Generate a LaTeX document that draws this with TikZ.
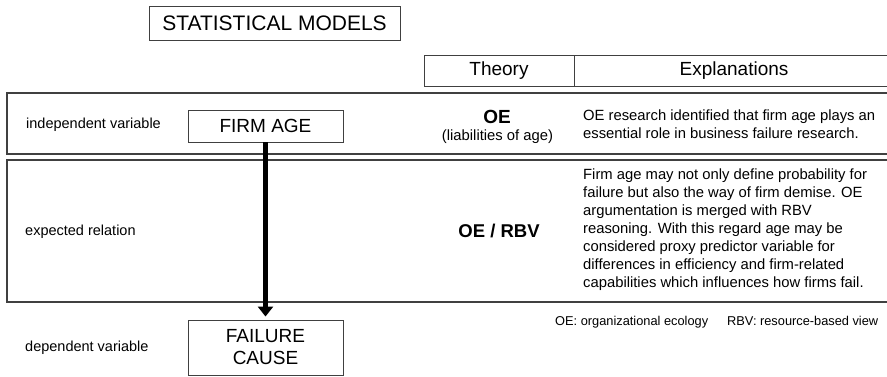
\documentclass[tikz,border=0pt]{standalone}
\usepackage{fontspec}
\setmainfont{Liberation Sans}
\usetikzlibrary{arrows.meta}
\definecolor{edge}{HTML}{404040}
\tikzset{
  thinbox/.style={draw=edge, line width=0.9pt, inner sep=0pt},
  rowbox/.style={draw=edge, line width=1.6pt},
  lbl/.style={anchor=west, inner sep=0pt, font=\fontsize{14.5}{17}\selectfont},
  expl/.style={anchor=west, inner sep=0pt, align=left, font=\fontsize{14.8}{18}\selectfont},
  bigarrow/.style={line width=5pt, -{Triangle[width=15pt,length=10pt]}, shorten >=3pt}
}
\begin{document}
\begin{tikzpicture}[x=1pt,y=-1pt]
\useasboundingbox (0,0) rectangle (887,376);
% title
\node[thinbox, minimum width=251pt, minimum height=34pt, font=\fontsize{21}{24}\selectfont] (title) at (274.5,23) {STATISTICAL MODELS};
% header
\node[thinbox, minimum width=150pt, minimum height=31pt, font=\fontsize{19}{22}\selectfont] (theory) at (499,70.5) {Theory};
\node[thinbox, minimum width=320pt, minimum height=31pt, anchor=west] (explhead) at (574,70.5) {};
\node[font=\fontsize{19}{22}\selectfont] (expltxt) at (734,70.5) {Explanations};
% rows
\draw[rowbox] (7,93) rectangle (895,154);
\draw[rowbox] (7,160) rectangle (895,302);
% left labels
\node[lbl] (lind) at (26,125) {independent variable};
\node[lbl] (lexp) at (25,232) {expected relation};
\node[lbl] (ldep) at (25,348) {dependent variable};
% variable boxes
\node[thinbox, minimum width=155pt, minimum height=32pt, font=\fontsize{19}{22}\selectfont] (age) at (265.5,126) {FIRM AGE};
\node[thinbox, minimum width=155pt, minimum height=55pt, align=center, font=\fontsize{19}{22}\selectfont] (fail) at (265.5,347.5) {FAILURE\\CAUSE};
\draw[bigarrow] (age.south) -- (fail.north);
% theory column
\node[font=\bfseries\fontsize{19}{22}\selectfont] (oe) at (497,117) {OE};
\node[font=\fontsize{14.8}{17}\selectfont] (liab) at (497.5,136.5) {(liabilities of age)};
\node[font=\bfseries\fontsize{18.5}{22}\selectfont] (oerbv) at (499,231) {OE / RBV};
% explanations
\node[expl] (ex1) at (583,124.5) {OE research identified that firm age plays an\\essential role in business failure research.};
\node[expl] (ex2) at (583,229.5) {Firm age may not only define probability for\\failure but also the way of firm demise. OE\\argumentation is merged with RBV\\reasoning. With this regard age may be\\considered proxy predictor variable for\\differences in efficiency and firm-related\\capabilities which influences how firms fail.};
% footnote
\node[anchor=west, inner sep=0pt, font=\fontsize{12.8}{15}\selectfont] (foot) at (555,322) {OE: organizational ecology\hspace{19pt}RBV: resource-based view};
\end{tikzpicture}
\end{document}
